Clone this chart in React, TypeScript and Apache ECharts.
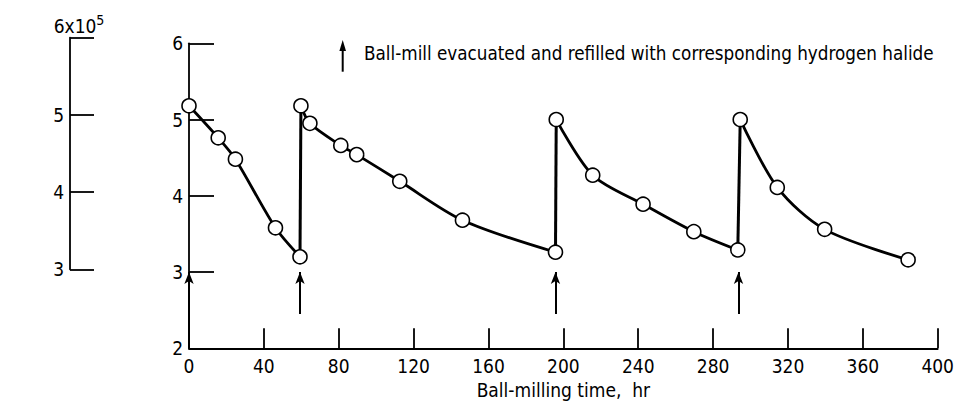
import React, { useEffect, useRef } from "react";
import * as echarts from "echarts";

const run1Hours = [0, 15.6, 24.8, 46.2, 59.3];
const run1Values = [5.18, 4.76, 4.48, 3.58, 3.2];
const run2Hours = [59.8, 64.6, 81.1, 89.6, 112.6, 146.1, 195.8];
const run2Values = [5.18, 4.95, 4.66, 4.54, 4.19, 3.68, 3.26];
const run3Hours = [196.2, 215.7, 242.6, 269.7, 293.2];
const run3Values = [5.0, 4.27, 3.89, 3.53, 3.29];
const run4Hours = [294.5, 314.3, 339.6, 384.2];
const run4Values = [5.0, 4.11, 3.56, 3.16];
const refillHours = [0, 59.3, 195.8, 293.6];
const xTicks = [0, 40, 80, 120, 160, 200, 240, 280, 320, 360, 400];
const yTicks = [2, 3, 4, 5, 6];
const leftTicks = [3, 4, 5, 6];
const legendText = "Ball-mill evacuated and refilled with corresponding hydrogen halide";
const xName = "Ball-milling time,  hr";

const FONT = "'Liberation Sans Narrow', 'DejaVu Sans Condensed', 'Roboto Condensed', 'Liberation Sans', sans-serif";

function pairs(xs: number[], ys: number[]) {
  return xs.map((x, i) => [x, ys[i]]);
}

export default function App() {
  const ref = useRef<HTMLDivElement>(null);
  useEffect(() => {
    if (!ref.current) return;
    const chart = echarts.init(ref.current, undefined, { renderer: "svg" });
    const runs = [
      pairs(run1Hours, run1Values),
      pairs(run2Hours, run2Values),
      pairs(run3Hours, run3Values),
      pairs(run4Hours, run4Values),
    ];
    const jumps = [];
    for (let i = 0; i < runs.length - 1; i++) {
      jumps.push([runs[i][runs[i].length - 1], runs[i + 1][0]]);
    }
    const black = "#000";
    const series: any[] = [];
    jumps.forEach((j) => {
      series.push({
        type: "line",
        xAxisIndex: 0,
        yAxisIndex: 0,
        data: j,
        symbol: "none",
        z: 1,
        lineStyle: { color: black, width: 3 },
        silent: true,
      });
    });
    runs.forEach((r) => {
      series.push({
        type: "line",
        xAxisIndex: 0,
        yAxisIndex: 0,
        data: r,
        smooth: 0.3,
        symbol: "circle",
        symbolSize: 14,
        showSymbol: true,
        z: 3,
        itemStyle: { color: "#fff", borderColor: black, borderWidth: 1.6 },
        lineStyle: { color: black, width: 2.8 },
        silent: true,
      });
    });
    series.push({
      type: "line",
      xAxisIndex: 0,
      yAxisIndex: 0,
      data: [],
      markLine: {
        silent: true,
        symbol: ["none", "arrow"],
        symbolSize: [7, 12],
        label: { show: false },
        lineStyle: { color: black, width: 2, type: "solid" },
        data: refillHours.map((h) => [
          { coord: [h, h === 0 ? 2 : 2.45] },
          { coord: [h, 3.0] },
        ]),
      },
    });

    const axisLineStyle = { lineStyle: { color: black, width: 1.8 } };
    const option: any = {
      animation: false,
      textStyle: { fontFamily: FONT, color: black },
      grid: [
        { left: 189, right: 17, top: 43.3, bottom: 57.7 },
        { left: 70, top: 37.7, height: 231.6, width: 25 },
      ],
      xAxis: [
        {
          type: "value",
          gridIndex: 0,
          min: 0,
          max: 400,
          interval: 40,
          axisLine: { show: true, onZero: false, ...axisLineStyle },
          axisTick: { show: true, inside: true, length: 20, lineStyle: { color: black, width: 1.8 } },
          splitLine: { show: false },
          axisLabel: {
            color: black,
            fontSize: 19,
            fontFamily: FONT,
            margin: 8,
            formatter: (v: number) => (xTicks.includes(v) ? String(v) : ""),
          },
          name: xName,
          nameLocation: "middle",
          nameGap: 31,
          nameTextStyle: { color: black, fontSize: 19, fontFamily: FONT },
        },
        { type: "value", gridIndex: 1, min: 0, max: 1, show: false },
      ],
      yAxis: [
        {
          type: "value",
          gridIndex: 0,
          min: 2,
          max: 6,
          interval: 1,
          axisLine: { show: true, onZero: false, ...axisLineStyle },
          axisTick: { show: true, inside: true, length: 25, lineStyle: { color: black, width: 1.8 } },
          splitLine: { show: false },
          axisLabel: {
            color: black,
            fontSize: 19,
            fontFamily: FONT,
            margin: 6,
            formatter: (v: number) => (yTicks.includes(v) ? String(v) : ""),
          },
        },
        {
          type: "value",
          gridIndex: 1,
          min: 3,
          max: 6,
          interval: 1,
          axisLine: { show: true, onZero: false, ...axisLineStyle },
          axisTick: { show: true, inside: true, length: 24, lineStyle: { color: black, width: 1.8 } },
          splitLine: { show: false },
          axisLabel: {
            color: black,
            fontSize: 19,
            fontFamily: FONT,
            margin: 6,
            formatter: (v: number) => (leftTicks.includes(v) && v !== 6 ? String(v) : ""),
          },
          name: "{b|6x10}{s|5}",
          nameLocation: "end",
          nameGap: 2,
          nameTextStyle: {
            padding: [0, 0, 0, 18],
            rich: {
              b: { fontSize: 19, fontFamily: FONT, color: black, verticalAlign: "bottom" },
              s: { fontSize: 14, fontFamily: FONT, color: black, verticalAlign: "bottom", padding: [0, 0, 9, 0] },
            },
          },
        },
      ],
      graphic: [
        {
          type: "group",
          silent: true,
          children: [
            { type: "line", shape: { x1: 342.7, y1: 71.7, x2: 342.7, y2: 48 }, style: { stroke: black, lineWidth: 2 } },
            { type: "polygon", shape: { points: [[339.4, 51], [346, 51], [342.7, 40]] }, style: { fill: black } },
            {
              type: "text",
              x: 364,
              y: 53,
              style: { text: legendText, fontSize: 18.7, fontFamily: FONT, fill: black, verticalAlign: "middle", align: "left" },
            },
          ],
        },
      ],
      series,
    };
    chart.setOption(option);
    return () => chart.dispose();
  }, []);
  return <div ref={ref} style={{ position: "absolute", left: 0, top: 0, width: 957, height: 406 }} />;
}
